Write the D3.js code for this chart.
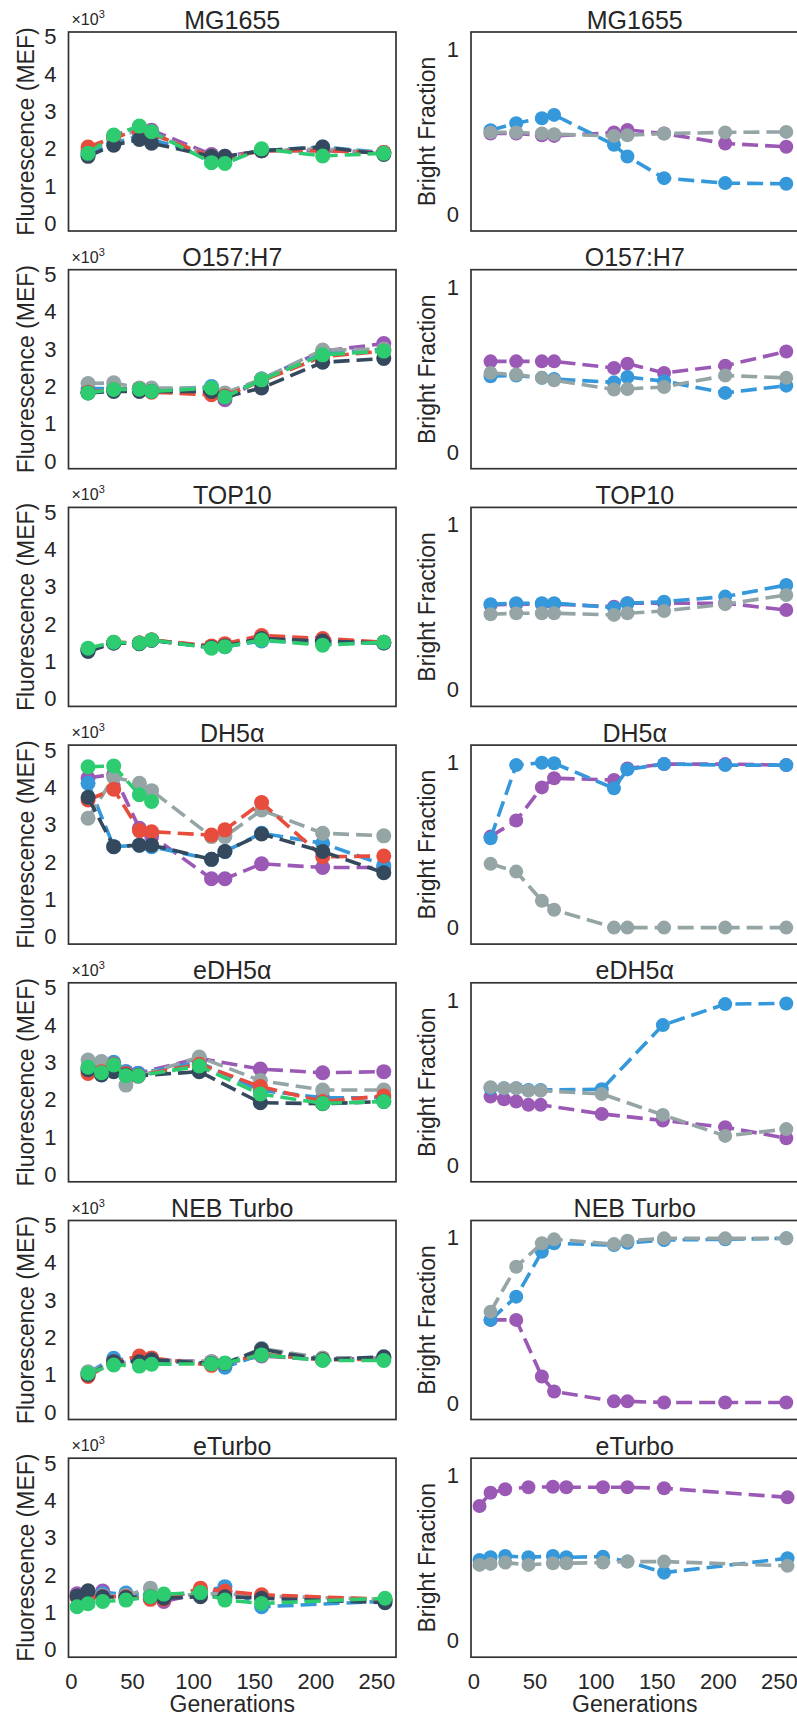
<!DOCTYPE html>
<html lang="en">
<head>
<meta charset="utf-8">
<title>Fluorescence and bright fraction over generations</title>
<script src="https://cdn.jsdelivr.net/npm/d3@7"></script>
<style>
  html, body { margin: 0; padding: 0; background: white; overflow: hidden; }
  text { font-family: "Liberation Sans", Arial, Helvetica, sans-serif; fill: #262626; }
</style>
</head>
<body>
<div id="chart"></div>
<script>

// strains, one row each
var strains = ["MG1655", "O157:H7", "TOP10", "DH5α", "eDH5α", "NEB Turbo", "eTurbo"];

// generation sampling points
var genStd = [14, 35, 56, 66, 115, 126, 156, 206, 256];
var genEDH5a = [14, 25, 35, 45, 55, 105, 155, 206, 256];
var genETurbo = [5, 14, 26, 45, 65, 76, 106, 126, 156, 257];

// colours (flatui) - fluorescence has 6 series, bright fraction 3
var fluorColors = ["#9b59b6", "#3498db", "#95a5a6", "#e74c3c", "#34495e", "#2ecc71"];
var brightColors = ["#9b59b6", "#3498db", "#95a5a6"];

// ticks
var genTicks = [0, 50, 100, 150, 200, 250];
var fluorTicks = [0, 1, 2, 3, 4, 5];
var brightTicks = [0, 1];

// fluorescence (x10^3 MEF), order: purple, blue, gray, red, navy, green
var fluorMG1655 = [
  [1.95, 2.35, 2.6, 2.5, 1.85, 1.8, 1.95, 1.95, 1.9],
  [1.85, 2.15, 2.35, 2.25, 1.8, 1.75, 1.95, 2.05, 1.9],
  [1.9, 2.3, 2.5, 2.4, 1.8, 1.75, 1.95, 2.0, 1.9],
  [2.05, 2.3, 2.5, 2.4, 1.8, 1.75, 1.95, 1.95, 1.9],
  [1.8, 2.1, 2.25, 2.15, 1.8, 1.8, 1.95, 2.05, 1.85],
  [1.88, 2.37, 2.61, 2.46, 1.63, 1.61, 2.0, 1.81, 1.88]
];
var fluorO157 = [
  [1.85, 1.92, 1.95, 1.9, 1.9, 1.65, 2.2, 2.95, 3.15],
  [1.95, 1.95, 1.95, 1.9, 2.0, 1.75, 2.2, 2.9, 3.0],
  [2.08, 2.1, 1.96, 1.96, 1.96, 1.83, 2.2, 2.98, 3.0],
  [1.85, 1.92, 1.93, 1.85, 1.78, 1.75, 2.15, 2.8, 2.95],
  [1.83, 1.87, 1.87, 1.87, 1.87, 1.72, 1.96, 2.65, 2.75],
  [1.83, 1.92, 1.93, 1.87, 1.96, 1.72, 2.18, 2.85, 2.95]
];
var fluorTOP10 = [
  [1.32, 1.5, 1.5, 1.58, 1.4, 1.45, 1.62, 1.55, 1.52],
  [1.3, 1.5, 1.48, 1.57, 1.38, 1.4, 1.55, 1.5, 1.5],
  [1.33, 1.5, 1.5, 1.58, 1.4, 1.45, 1.6, 1.5, 1.52],
  [1.32, 1.52, 1.5, 1.58, 1.42, 1.48, 1.7, 1.62, 1.52],
  [1.27, 1.5, 1.48, 1.57, 1.38, 1.42, 1.62, 1.55, 1.5],
  [1.36, 1.52, 1.49, 1.58, 1.36, 1.4, 1.58, 1.44, 1.52]
];
var fluorDH5a = [
  [4.25, 4.35, 2.9, 2.7, 1.55, 1.55, 1.95, 1.85, 1.85],
  [4.11, 2.41, 2.45, 2.41, 2.07, 2.28, 2.77, 2.5, 1.92],
  [3.17, 4.27, 4.11, 3.91, 2.68, 2.68, 3.39, 2.77, 2.7],
  [3.66, 3.95, 2.84, 2.81, 2.72, 2.86, 3.59, 2.14, 2.16],
  [3.73, 2.41, 2.45, 2.45, 2.07, 2.28, 2.75, 2.28, 1.71],
  [4.55, 4.57, 3.8, 3.62, null, null, null, null, null]
];
var fluorEDH5a = [
  [2.88, 2.84, 2.93, 2.75, 2.71, 3.11, 2.82, 2.72, 2.75],
  [2.8, 2.8, 3.0, 2.75, 2.7, 3.0, 2.25, 2.05, 2.05],
  [3.06, 3.02, 2.93, 2.39, 2.62, 3.14, 2.51, 2.26, 2.26],
  [2.7, 2.75, 2.95, 2.7, 2.65, 2.95, 2.35, 1.95, 2.1],
  [2.8, 2.66, 2.75, 2.66, 2.64, 2.75, 1.92, 1.89, 1.95],
  [2.87, 2.72, 2.93, 2.64, 2.64, 2.9, 2.15, 1.9, 1.95]
];
var fluorNEB = [
  [1.05, 1.3, 1.35, 1.4, 1.35, 1.3, 1.5, 1.4, 1.45],
  [1.05, 1.44, 1.35, 1.38, 1.3, 1.2, 1.55, 1.4, 1.45],
  [1.08, 1.3, 1.35, 1.38, 1.35, 1.3, 1.7, 1.45, 1.45],
  [0.95, 1.35, 1.5, 1.45, 1.25, 1.3, 1.55, 1.4, 1.42],
  [1.0, 1.35, 1.35, 1.4, 1.3, 1.3, 1.68, 1.4, 1.48],
  [1.04, 1.26, 1.23, 1.28, 1.29, 1.31, 1.53, 1.38, 1.38]
];
var fluorETurbo = [
  [1.5, 1.48, 1.57, 1.42, 1.38, 1.29, 1.51, 1.57, 1.44, 1.33],
  [1.42, 1.45, 1.5, 1.52, 1.45, 1.42, 1.55, 1.69, 1.15, 1.3],
  [1.4, 1.45, 1.45, 1.45, 1.65, 1.4, 1.5, 1.5, 1.44, 1.35],
  [1.42, 1.42, 1.42, 1.42, 1.35, 1.35, 1.65, 1.57, 1.47, 1.35],
  [1.44, 1.58, 1.42, 1.4, 1.42, 1.38, 1.42, 1.42, 1.38, 1.26],
  [1.15, 1.23, 1.29, 1.33, 1.42, 1.49, 1.53, 1.33, 1.24, 1.38]
];

// bright fraction, order: purple, blue, gray
var brightMG1655 = [
  [0.49, 0.49, 0.48, 0.476, 0.496, 0.512, 0.49, 0.43, 0.41],
  [0.51, 0.553, 0.583, 0.603, 0.422, 0.351, 0.22, 0.19, 0.186],
  [0.497, 0.497, 0.49, 0.486, 0.476, 0.48, 0.49, 0.497, 0.5]
];
var brightO157 = [
  [0.55, 0.55, 0.55, 0.55, 0.51, 0.536, 0.48, 0.524, 0.61],
  [0.46, 0.464, 0.45, 0.443, 0.423, 0.455, 0.43, 0.359, 0.403],
  [0.48, 0.47, 0.45, 0.435, 0.38, 0.383, 0.395, 0.464, 0.45]
];
var brightTOP10 = [
  [0.514, 0.519, 0.519, 0.519, 0.504, 0.525, 0.525, 0.525, 0.484],
  [0.519, 0.525, 0.525, 0.525, 0.498, 0.525, 0.534, 0.565, 0.635],
  [0.458, 0.464, 0.464, 0.464, 0.454, 0.464, 0.478, 0.519, 0.575]
];
var brightDH5a = [
  [0.551, 0.648, 0.849, 0.904, 0.894, 0.964, 0.99, 0.99, 0.984],
  [0.541, 0.984, 0.998, 0.995, 0.843, 0.958, 0.99, 0.984, 0.984],
  [0.386, 0.339, 0.162, 0.108, 0.0, 0.0, 0.0, 0.0, 0.0]
];
var brightEDH5a = [
  [0.416, 0.4, 0.386, 0.366, 0.366, 0.311, 0.271, 0.231, 0.164],
  [0.467, 0.467, 0.467, 0.456, 0.456, 0.46, 0.849, 0.976, 0.98],
  [0.473, 0.467, 0.467, 0.452, 0.452, 0.432, 0.305, 0.178, 0.219]
];
var brightNEB = [
  [0.503, 0.503, 0.16, 0.07, 0.01, 0.01, 0.003, 0.003, 0.003],
  [0.503, 0.644, 0.916, 0.967, 0.956, 0.97, 0.987, 0.991, 0.997],
  [0.553, 0.825, 0.967, 0.991, 0.962, 0.982, 0.997, 0.997, 0.997]
];
var brightETurbo = [
  [0.816, 0.896, 0.917, 0.929, 0.932, 0.929, 0.929, 0.929, 0.923, 0.868],
  [0.489, 0.505, 0.513, 0.505, 0.513, 0.505, 0.509, 0.479, 0.412, 0.499],
  [0.459, 0.465, 0.473, 0.459, 0.469, 0.469, 0.473, 0.479, 0.479, 0.453]
];

// rows table built from the arrays above
var rows = [
  {name: strains[0], gens: genStd,    fluor: fluorMG1655, bright: brightMG1655},
  {name: strains[1], gens: genStd,    fluor: fluorO157,   bright: brightO157},
  {name: strains[2], gens: genStd,    fluor: fluorTOP10,  bright: brightTOP10},
  {name: strains[3], gens: genStd,    fluor: fluorDH5a,   bright: brightDH5a},
  {name: strains[4], gens: genEDH5a,  fluor: fluorEDH5a,  bright: brightEDH5a},
  {name: strains[5], gens: genStd,    fluor: fluorNEB,    bright: brightNEB},
  {name: strains[6], gens: genETurbo, fluor: fluorETurbo, bright: brightETurbo}
];

// layout
var w = 797, h = 1717;
var boxW = 327.5, boxH = 199;
var leftX = 68.5, rightX = 471;
var firstTop = 32, rowStep = 237.7;

var xScale = d3.scaleLinear().domain([-2, 266]).range([0, boxW]);
var yFluor = d3.scaleLinear().domain([-0.2, 5.13]).range([boxH, 0]);
var yBright = d3.scaleLinear().domain([-0.1, 1.105]).range([boxH, 0]);

var svg = d3.select("#chart")
  .append("svg")
  .attr("width", w)
  .attr("height", h)
  .style("display", "block")
  .style("background", "white");

function drawPanel(g, row, values, colors, yScale, ticks, ylabel, isLeft, isBottom) {

  // frame
  g.append("rect")
    .attr("x", 0).attr("y", 0)
    .attr("width", boxW).attr("height", boxH)
    .attr("fill", "white")
    .attr("stroke", "#333")
    .attr("stroke-width", 1.7);

  // y tick labels (no tick marks)
  var yAxis = d3.axisLeft(yScale).tickValues(ticks).tickSize(0).tickPadding(12)
    .tickFormat(d3.format("d"));
  var ya = g.append("g").call(yAxis);
  ya.select(".domain").remove();
  ya.selectAll("text")
    .attr("font-size", 22)
    .attr("fill", "#262626")
    .attr("font-family", "Liberation Sans, Arial, sans-serif");

  if (isBottom) {
    var xAxis = d3.axisBottom(xScale).tickValues(genTicks).tickSize(0).tickPadding(16);
    var xa = g.append("g").attr("transform", "translate(0," + boxH + ")").call(xAxis);
    xa.select(".domain").remove();
    xa.selectAll("text")
      .attr("font-size", 22)
      .attr("fill", "#262626")
      .attr("font-family", "Liberation Sans, Arial, sans-serif");

    g.append("text")
      .attr("x", boxW / 2)
      .attr("y", boxH + 55)
      .attr("text-anchor", "middle")
      .attr("font-size", 23)
      .text("Generations");
  }

  // title
  g.append("text")
    .attr("x", boxW / 2)
    .attr("y", -3.5)
    .attr("text-anchor", "middle")
    .attr("font-size", 25)
    .text(row.name);

  // y label
  g.append("text")
    .attr("transform", "translate(" + (isLeft ? -35 : -36) + "," + (boxH / 2) + ") rotate(-90)")
    .attr("text-anchor", "middle")
    .attr("font-size", 23)
    .text(ylabel);

  if (isLeft) {
    var mult = g.append("text")
      .attr("x", 3)
      .attr("y", -7)
      .attr("font-size", 16)
      .attr("fill", "#444");
    mult.append("tspan").text("×10");
    mult.append("tspan").attr("dy", -7).attr("font-size", 11).text("3");
  }

  var line = d3.line()
    .defined(function(d) { return d.v != null; })
    .x(function(d) { return xScale(d.g); })
    .y(function(d) { return yScale(d.v); });

  // one group per series, line then its markers
  values.forEach(function(series, i) {
    var pts = series.map(function(v, j) { return {g: row.gens[j], v: v}; });
    var sg = g.append("g");
    sg.append("path")
      .datum(pts)
      .attr("d", line)
      .attr("fill", "none")
      .attr("stroke", colors[i])
      .attr("stroke-width", 3.6)
      .attr("stroke-dasharray", "16,7");
    sg.selectAll("circle")
      .data(pts.filter(function(d) { return d.v != null; }))
      .enter()
      .append("circle")
      .attr("cx", function(d) { return xScale(d.g); })
      .attr("cy", function(d) { return yScale(d.v); })
      .attr("r", isLeft ? 7.5 : 7)
      .attr("fill", colors[i]);
  });
}

rows.forEach(function(row, r) {
  var top = firstTop + r * rowStep;
  var bottom = (r === rows.length - 1);

  var gl = svg.append("g").attr("transform", "translate(" + leftX + "," + top + ")");
  drawPanel(gl, row, row.fluor, fluorColors, yFluor, fluorTicks, "Fluorescence (MEF)", true, bottom);

  var gr = svg.append("g").attr("transform", "translate(" + rightX + "," + top + ")");
  drawPanel(gr, row, row.bright, brightColors, yBright, brightTicks, "Bright Fraction", false, bottom);
});

</script>
</body>
</html>
